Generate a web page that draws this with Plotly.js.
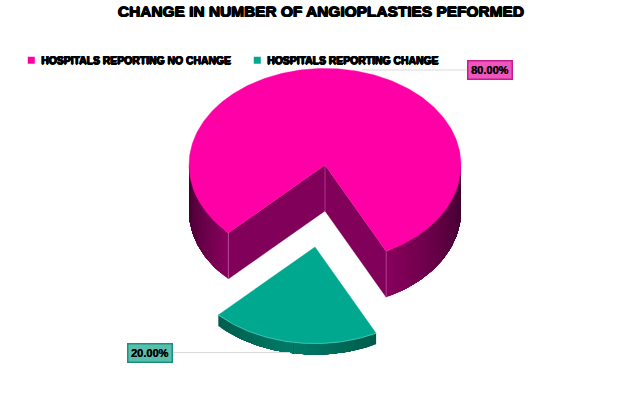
<!DOCTYPE html>
<html><head><meta charset="utf-8">
<script src="https://cdn.plot.ly/plotly-3.0.1.min.js"></script>
<style>html,body{margin:0;padding:0;background:#fff}#chart{width:640px;height:401px}</style>
</head><body><div id="chart"></div>
<script>
// Data
const categories = ['HOSPITALS REPORTING NO CHANGE', 'HOSPITALS REPORTING CHANGE'];
const shares = [80, 20];
const shareLabels = ['80.00%', '20.00%'];
const titleText = 'CHANGE IN NUMBER OF ANGIOPLASTIES PEFORMED';

// Styling
const topColors = ['#ff00a6', '#00a88f'];
const labelFill = ['#ee55bd', '#58bfae'];
const labelEdge = ['#c21c8e', '#1f8f7d'];
const cutWallColor = '#80005a';
const wallEnds = [[[58,0,44],[136,0,92]], [[0,92,76],[0,122,104]]];
const rimColors = ['#c44a9f', '#5fd0bc'];

// Pie geometry, in pie-radius units (axes are scaled so 1 unit = one radius)
const W = 640, H = 401, R = 136, cxPx = 325, cyPx = 165;
const tilt = 0.71, startDeg = 135.3;
const depths = [46 / R, 11 / R];
const explode = [[0, 0], [-10 / R, 82 / R]];
const labelPos = [[490, 70], [150, 352.5]].map(p => [(p[0] - cxPx) / R, (p[1] - cyPx) / R]);
const leaderEnd = [(362 - cxPx) / R, (290 - cxPx) / R];

const rad = d => d * Math.PI / 180;
const px = a => Math.cos(rad(a));
const py = a => tilt * Math.sin(rad(a));
const mix = (e, t) => 'rgb(' + e[0].map((v, i) => Math.round(v + (e[1][i] - v) * t)).join(',') + ')';

const traces = [];
function poly(xs, ys, color, lw) {
  traces.push({type: 'scatter', mode: 'lines', x: xs, y: ys, fill: 'toself', fillcolor: color,
    line: {color: color, width: lw === undefined ? 0 : lw}, hoverinfo: 'skip', showlegend: false});
}
function edge(xs, ys, color, w) {
  traces.push({type: 'scatter', mode: 'lines', x: xs, y: ys, line: {color: color, width: w || 0.7},
    hoverinfo: 'skip', showlegend: false});
}
// Each band reaches to the far end of the wall and the next one paints over it, so no seams show
function wall(i, a0, a1, tFn) {
  const [ox, oy] = explode[i], d = depths[i], n = Math.max(2, Math.round(Math.abs(a1 - a0) / 1.5));
  for (let k = 0; k < n; k++) {
    const u = a0 + (a1 - a0) * k / n, v = a0 + (a1 - a0) * (k + 1) / n, m = (a1 - a0) / 40;
    const xs = [], ys = [];
    for (let a = u; (a1 > a0 ? a < a1 : a > a1); a += m) { xs.push(ox + px(a)); ys.push(oy + py(a)); }
    xs.push(ox + px(a1)); ys.push(oy + py(a1));
    const xb = xs.slice().reverse(), yb = ys.slice().reverse().map(y => y + d);
    poly(xs.concat(xb), ys.concat(yb), mix(wallEnds[i], tFn((u + v) / 2)));
  }
}
function arcPts(a0, a1) {
  const xs = [], ys = [], n = Math.ceil(Math.abs(a1 - a0));
  for (let k = 0; k <= n; k++) { const a = a0 + (a1 - a0) * k / n; xs.push(px(a)); ys.push(py(a)); }
  return [xs, ys];
}

// Slice spans follow from the shares
const total = shares.reduce((s, v) => s + v, 0);
const span0 = 360 * shares[0] / total;
const a0 = startDeg, a1 = startDeg + span0;     // big slice, clockwise on screen
const end1 = a1 - 360, span1 = 360 * shares[1] / total;

// Big slice: cut walls
const d0 = depths[0];
poly([px(a0), 0, 0, px(a0)], [py(a0), 0, d0, py(a0) + d0], cutWallColor, 0.3);
poly([0, px(a1), px(a1), 0], [0, py(a1), py(a1) + d0, d0], cutWallColor, 0.3);
// Big slice: visible outer wall, dark at the silhouette
wall(0, a0, 180, a => (180 - a) / (180 - a0));
wall(0, end1, 0, a => a / end1);
// Big slice: top face
let [tx, ty] = arcPts(a0, a1);
poly([0, ...tx, 0], [0, ...ty, 0], topColors[0], 0.4);
// Highlights on wall edges
edge([px(a0), px(a0)], [py(a0), py(a0) + d0], rimColors[0]);
edge([px(a1), px(a1)], [py(a1), py(a1) + d0], rimColors[0]);
edge([0, 0], [0, d0], rimColors[0]);

// Small slice, pulled out: wall brightens toward the middle from both ends
const [ox, oy] = explode[1], mid = end1 + span1 / 2;
wall(1, end1, mid, a => (a - end1) / (span1 / 2));
wall(1, end1 + span1, mid, a => (end1 + span1 - a) / (span1 / 2));
let [sx, sy] = arcPts(end1, end1 + span1);
poly([ox, ...sx.map(v => v + ox), ox], [oy, ...sy.map(v => v + oy), oy], topColors[1], 0.4);
edge(sx.map(v => v + ox), sy.map(v => v + oy), rimColors[1]);

// Leader lines to the value labels
edge([leaderEnd[0], labelPos[0][0]], [labelPos[0][1], labelPos[0][1]], '#d9d9d9', 1);
edge([leaderEnd[1], labelPos[1][0]], [labelPos[1][1], labelPos[1][1]], '#d9d9d9', 1);

// Legend entries
categories.forEach((c, i) => traces.push({type: 'scatter', mode: 'markers', name: c, x: [null], y: [null],
  marker: {symbol: 'square', size: 7, color: topColors[i]}, hoverinfo: 'skip', showlegend: true}));

const heavy = (size, s) => ({family: '"Liberation Sans", Arial, sans-serif', size: size, color: '#000', weight: 700,
  shadow: s || '0.6px 0 0 #000, -0.6px 0 0 #000, 0 0.5px 0 #000, 0 -0.3px 0 #000'});

const layout = {
  width: W, height: H, margin: {l: 0, r: 0, t: 0, b: 0}, paper_bgcolor: '#fff', plot_bgcolor: '#fff',
  title: {text: titleText, font: heavy(15.45), x: 0.5015, xanchor: 'center', y: 0.972, yanchor: 'middle'},
  xaxis: {range: [-cxPx / R, (W - cxPx) / R], visible: false, fixedrange: true},
  yaxis: {range: [(H - cyPx) / R, -cyPx / R], visible: false, fixedrange: true},
  showlegend: true,
  legend: {orientation: 'h', x: 0.002, xanchor: 'left', y: 0.85, yanchor: 'middle', font: heavy(10.4),
           itemwidth: 30, entrywidth: 181, entrywidthmode: 'pixels', bgcolor: 'rgba(0,0,0,0)', traceorder: 'normal'},
  annotations: shareLabels.map((t, i) => ({
    x: labelPos[i][0], y: labelPos[i][1], xref: 'x', yref: 'y', text: t, showarrow: false,
    font: heavy(11, '0.25px 0 0 #000'), bgcolor: labelFill[i], bordercolor: labelEdge[i], borderwidth: 1.5, borderpad: 2.5
  }))
};
Plotly.newPlot('chart', traces, layout, {displayModeBar: false, staticPlot: true}).then(() => {
  document.querySelectorAll('.legendsymbols').forEach(g => g.setAttribute('transform', 'translate(10,0)'));
});
</script></body></html>
